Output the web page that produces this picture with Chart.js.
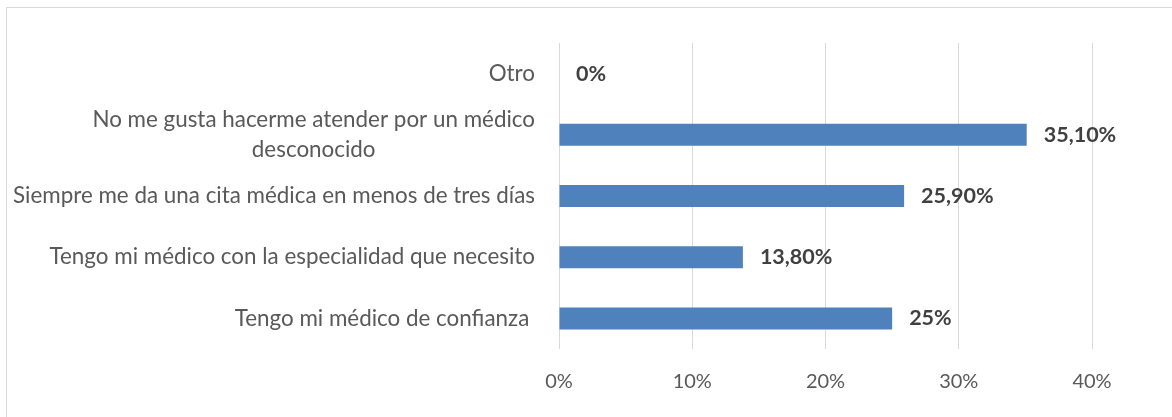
<!DOCTYPE html>
<html>
<head>
<meta charset="utf-8">
<script src="https://cdn.jsdelivr.net/npm/chart.js@4.4.1/dist/chart.umd.min.js"></script>
<style>
  html, body { margin: 0; padding: 0; background: #fff; overflow: hidden; }
  #frame { position: absolute; left: 6px; top: 7px; width: 1200px; height: 440px; border: 1px solid #D9D9D9; }
  #wrap { position: absolute; left: 0; top: 0; width: 1172px; height: 417px; }
</style>
</head>
<body>
<div id="frame"></div>
<div id="wrap"><canvas id="chart"></canvas></div>
<script>
// categories, top to bottom
const categories = [
  'Otro',
  ['No me gusta hacerme atender por un médico', 'desconocido'],
  'Siempre me da una cita médica en menos de tres días',
  'Tengo mi médico con la especialidad que necesito',
  'Tengo mi médico de confianza '
];
const values = [0, 35.1, 25.9, 13.8, 25];
const dataLabels = ['0%', '35,10%', '25,90%', '13,80%', '25%'];
const xTicks = [0, 10, 20, 30, 40];

const FONT = 'Lato';

// category labels: block right aligned to the axis, lines centred inside the block
const catLabels = {
  id: 'catLabels',
  afterDraw(chart) {
    const ctx = chart.ctx;
    const yScale = chart.scales.y;
    const right = chart.chartArea.left - 24;
    const lineH = 30;
    ctx.save();
    ctx.font = '22.4px ' + FONT;
    ctx.fillStyle = '#595959';
    ctx.textBaseline = 'middle';
    ctx.textAlign = 'center';
    categories.forEach((lab, i) => {
      const lines = Array.isArray(lab) ? lab : [lab];
      const w = Math.max(...lines.map(l => ctx.measureText(l).width));
      const cy = yScale.getPixelForValue(i);
      lines.forEach((l, k) => {
        ctx.fillText(l, right - w / 2, cy + (k - (lines.length - 1) / 2) * lineH);
      });
    });
    ctx.restore();
  }
};

// value labels at the end of each bar
const barLabels = {
  id: 'barLabels',
  afterDatasetsDraw(chart) {
    const ctx = chart.ctx;
    ctx.save();
    ctx.font = 'bold 21.5px ' + FONT;
    ctx.fillStyle = '#404040';
    ctx.textBaseline = 'middle';
    ctx.textAlign = 'left';
    chart.getDatasetMeta(0).data.forEach((bar, i) => {
      ctx.fillText(dataLabels[i], bar.x + 17, bar.y);
    });
    ctx.restore();
  }
};

const ctx = document.getElementById('chart').getContext('2d');
new Chart(ctx, {
  type: 'bar',
  data: {
    labels: categories,
    datasets: [{
      data: values,
      backgroundColor: '#4F81BD',
      borderWidth: 0,
      categoryPercentage: 1,
      barPercentage: 0.36
    }]
  },
  options: {
    indexAxis: 'y',
    responsive: true,
    maintainAspectRatio: false,
    animation: false,
    layout: { padding: { left: 559, top: 43, right: 80, bottom: 2 } },
    scales: {
      x: {
        min: 0,
        max: 40,
        afterBuildTicks: scale => { scale.ticks = xTicks.map(v => ({ value: v })); },
        border: { display: false },
        grid: { color: '#D9D9D9', lineWidth: 1, drawTicks: false },
        ticks: {
          padding: 21,
          color: '#595959',
          font: { family: FONT, size: 20 },
          callback: v => v + '%'
        }
      },
      y: {
        display: false
      }
    },
    plugins: {
      legend: { display: false },
      tooltip: { enabled: false }
    }
  },
  plugins: [catLabels, barLabels]
});
</script>
</body>
</html>
